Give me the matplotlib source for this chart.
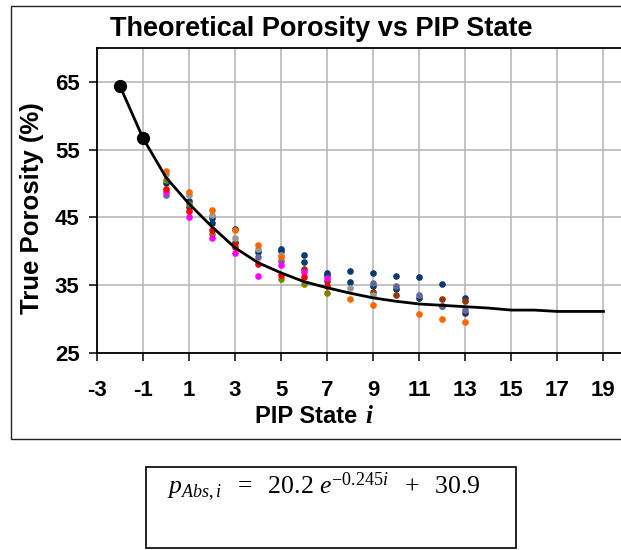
import numpy as np
import matplotlib
matplotlib.use("Agg")
import matplotlib.pyplot as plt
from matplotlib.patches import Rectangle

nan = np.nan

# fitted curve at each PIP state
fit_state = list(range(-2, 20))
fit_porosity = [64.4, 56.7, 50.9, 47.0, 43.6, 40.5, 38.3, 36.8, 35.5, 34.6, 33.8,
                33.1, 32.6, 32.2, 32.0, 31.8, 31.6, 31.3, 31.3, 31.1, 31.1, 31.1]

# the two big black points
start_state = [-2, -1]
start_porosity = [64.4, 56.7]

# measured samples, PIP state 0..13
states = list(range(0, 14))
navy_a = [50.1, 47.4, 44.9, 43.3, 39.9, 40.4, 39.5, 36.85, 37.1, 36.85, 36.4, 36.2, 35.1, 33.15]
navy_b = [nan, 46.6, 44.2, nan, nan, 40.0, 38.4, 36.5, 35.4, 34.9, 34.4, 33.05, 31.9, 30.85]
slate = [48.3, nan, nan, 41.3, 39.1, 38.5, nan, nan, nan, 35.3, 34.8, 33.6, 31.9, 31.3]
brown = [nan, nan, nan, 41.2, nan, nan, 37.35, 35.6, nan, 34.0, 33.55, nan, 32.9, 32.65]
grey = [51.4, 48.3, 45.4, 42.0, 40.3, 39.5, nan, nan, 34.6, 33.5, nan, nan, nan, nan]
orange = [51.8, 48.7, 46.1, 43.2, 40.9, 39.2, nan, nan, 32.9, 32.0, nan, 30.7, 30.0, 29.6]
olive = [50.6, 47.0, 42.6, nan, nan, 35.9, 35.1, 33.8, nan, nan, nan, nan, nan, nan]
magenta = [48.8, 45.05, 41.9, 39.7, 36.4, 38.0, 36.9, 36.0, nan, nan, nan, nan, nan, nan]
red = [49.2, 45.9, 43.2, 40.6, 38.1, 36.5, 36.2, 34.9, nan, nan, nan, nan, nan, nan]

series = [(navy_a, "#0b3a6e"), (navy_b, "#0b3a6e"), (slate, "#666699"),
          (brown, "#993300"), (grey, "#999999"), (orange, "#ff6600"),
          (olive, "#808000"), (magenta, "#ff00ff"), (red, "#ff0000")]

x_ticks = list(range(-3, 20, 2))
y_ticks = [25, 35, 45, 55, 65]

plt.rcParams["font.family"] = ["Liberation Sans", "DejaVu Sans"]
plt.rcParams["axes.unicode_minus"] = False
plt.rcParams["mathtext.fontset"] = "custom"
plt.rcParams["mathtext.rm"] = "Liberation Serif"
plt.rcParams["mathtext.it"] = "Liberation Serif:italic"

W, H = 621, 550
fig = plt.figure(figsize=(W / 100, H / 100), dpi=100)

def fx(px):
    return px / W

def fy(py):
    return 1 - py / H

ax = fig.add_axes([fx(97), fy(352.7), fx(623 - 97), (352.7 - 48.3) / H])

for vals, col in series:
    ax.plot(states, vals, "o", color=col, markersize=4.8, markeredgewidth=0, zorder=3)

ax.plot(fit_state, fit_porosity, color="black", linewidth=2.0, zorder=4)
ax.plot(start_state, start_porosity, "o", color="black", markersize=8.5, zorder=5)

ax.set_xlim(-3, 19.85)
ax.set_ylim(25, 70)
ax.set_xticks(x_ticks)
ax.set_yticks(y_ticks)
ax.grid(True, color="#b4b4b4", linewidth=1.1)
ax.set_axisbelow(True)
ax.spines["right"].set_visible(False)
for s in ["left", "bottom", "top"]:
    ax.spines[s].set_linewidth(1.3)
ax.tick_params(axis="both", direction="out", length=5.5, width=1.1, labelsize=16)
ax.tick_params(axis="x", pad=14)
ax.tick_params(axis="y", pad=7)
for lab in ax.get_xticklabels() + ax.get_yticklabels():
    lab.set_fontweight("bold")

fig.text(fx(32.5), fy(208.5), "True Porosity (%)", rotation=90, ha="center", va="center",
         fontsize=18.5, fontweight="bold")
fig.text(fx(364), fy(422.7), "PIP State ", ha="right", va="baseline",
         fontsize=17, fontweight="bold")
fig.text(fx(365), fy(422.7), "i", ha="left", va="baseline", fontsize=18,
         family="Liberation Serif", style="italic", fontweight="bold")
fig.text(fx(321), fy(29), "Theoretical Porosity vs PIP State", ha="center", va="center",
         fontsize=19.5, fontweight="bold")

# chart frame
fig.patches.append(Rectangle((fx(11.2), fy(439)), 1.2, (439 - 5.7) / H,
                             transform=fig.transFigure, fill=False,
                             edgecolor="#222222", linewidth=1.0))
# equation box
fig.patches.append(Rectangle((fx(146), fy(548)), 370 / W, 81 / H,
                             transform=fig.transFigure, fill=False,
                             edgecolor="black", linewidth=1.2))
fig.text(fx(324), fy(494), r"$p_{Abs,i}\ \ =\ \ 20.2\ e^{-0.245i}\ \ +\ \ 30.9$",
         ha="center", va="baseline", fontsize=18.5)

fig.savefig("out.png", dpi=100)
